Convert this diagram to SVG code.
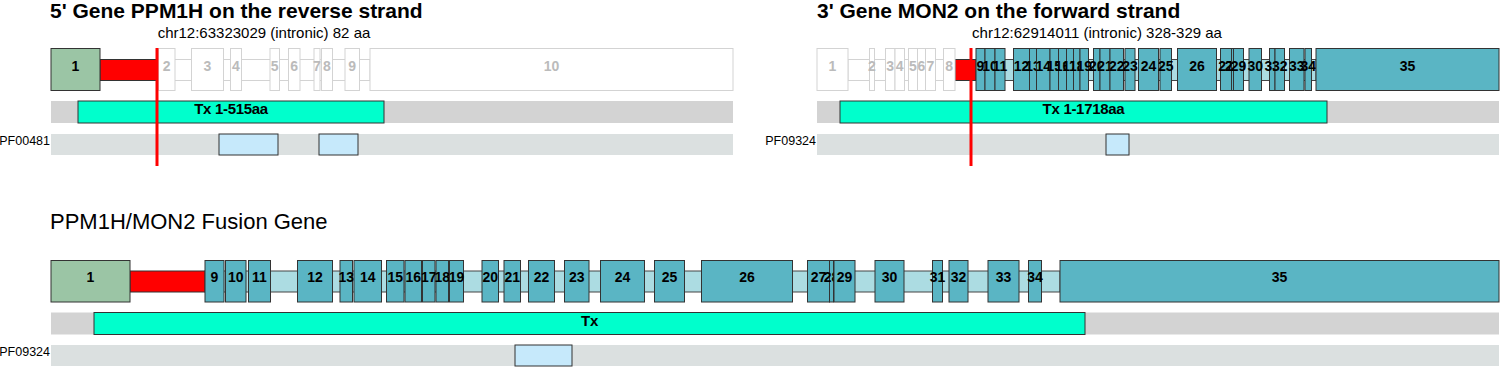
<svg xmlns="http://www.w3.org/2000/svg" width="1500" height="367" viewBox="0 0 1500 367">
<style>
.title{font:bold 21px "Liberation Sans",Arial,sans-serif;fill:#000}
.ftitle{font:22px "Liberation Sans",Arial,sans-serif;fill:#000}
.sub{font:15px "Liberation Sans",Arial,sans-serif;fill:#000;text-anchor:middle}
.ex{fill:#5ab5c4;stroke:#333;stroke-width:1}
.ex1{fill:#9bc5a5;stroke:#333;stroke-width:1}
.gex{fill:#fff;stroke:#d3d3d3;stroke-width:1}
.in{fill:#acdce2;stroke:#444;stroke-width:1}
.gin{fill:#fff;stroke:#d3d3d3;stroke-width:1}
.brk{fill:#ff0000;stroke:#333;stroke-width:1}
.lb{font:bold 14px "Liberation Sans",Arial,sans-serif;text-anchor:middle;fill:#000}
.glb{fill:#bbb}
.txbar{fill:#d3d3d3}
.tx{fill:#00ffcc;stroke:#333;stroke-width:1}
.txl{font:bold 15px "Liberation Sans",Arial,sans-serif;text-anchor:middle;fill:#000;letter-spacing:-0.3px}
.dombar{fill:#dbe0e0}
.dom{fill:#c6e9fb;stroke:#333;stroke-width:1}
.pf{font:12.5px "Liberation Sans",Arial,sans-serif;text-anchor:end;fill:#000}
.cut{stroke:#ff0000;stroke-width:3}
</style>

<g id="gene5">
<text class="title" x="50" y="18">5' Gene PPM1H on the reverse strand</text>
<text class="sub" x="264" y="38">chr12:63323029 (intronic) 82 aa</text>
<rect class="gin" x="159" y="59.5" width="211" height="21"/>
<rect class="brk" x="100" y="59.5" width="59" height="21"/>
<g id="g5e1"><rect class="ex1" x="51" y="48.5" width="49" height="42"/><text class="lb" x="75.5" y="71">1</text></g>
<g id="g5e2"><rect class="gex" x="158.5" y="48.5" width="16.5" height="42"/><text class="lb glb" x="166.7" y="71">2</text></g>
<g id="g5e3"><rect class="gex" x="191.5" y="48.5" width="32" height="42"/><text class="lb glb" x="207.5" y="71">3</text></g>
<g id="g5e4"><rect class="gex" x="230.5" y="48.5" width="11" height="42"/><text class="lb glb" x="236" y="71">4</text></g>
<g id="g5e5"><rect class="gex" x="270" y="48.5" width="9.5" height="42"/><text class="lb glb" x="274.7" y="71">5</text></g>
<g id="g5e6"><rect class="gex" x="288.5" y="48.5" width="11.5" height="42"/><text class="lb glb" x="294.2" y="71">6</text></g>
<g id="g5e7"><rect class="gex" x="314" y="48.5" width="6" height="42"/><text class="lb glb" x="317" y="71">7</text></g>
<g id="g5e8"><rect class="gex" x="321.5" y="48.5" width="11" height="42"/><text class="lb glb" x="327" y="71">8</text></g>
<g id="g5e9"><rect class="gex" x="345" y="48.5" width="14.5" height="42"/><text class="lb glb" x="352.2" y="71">9</text></g>
<g id="g5e10"><rect class="gex" x="370" y="48.5" width="363" height="42"/><text class="lb glb" x="551.5" y="71">10</text></g>
<rect class="txbar" x="51" y="101" width="682" height="22"/>
<rect class="tx" x="78" y="101" width="306" height="22"/>
<text class="txl" x="231" y="114">Tx 1-515aa</text>
<rect class="dombar" x="51" y="134" width="682" height="21"/>
<rect class="dom" x="219" y="134" width="59" height="21"/>
<rect class="dom" x="319" y="134" width="39" height="21"/>
<text class="pf" x="50" y="145">PF00481</text>
</g>

<g id="gene3">
<text class="title" x="817" y="18">3' Gene MON2 on the forward strand</text>
<text class="sub" x="1097" y="38">chr12:62914011 (intronic) 328-329 aa</text>
<rect class="gin" x="848" y="59.5" width="107" height="21"/>
<rect class="in" x="976" y="59.5" width="340" height="21"/>
<rect class="brk" x="955" y="59.5" width="21" height="21"/>
<g id="g3e1"><rect class="gex" x="817" y="48.5" width="31" height="42"/><text class="lb glb" x="832.5" y="71">1</text></g>
<g id="g3e2"><rect class="gex" x="869.5" y="48.5" width="5" height="42"/><text class="lb glb" x="872" y="71">2</text></g>
<g id="g3e3"><rect class="gex" x="885.5" y="48.5" width="9.5" height="42"/><text class="lb glb" x="890.2" y="71">3</text></g>
<g id="g3e4"><rect class="gex" x="895" y="48.5" width="9.5" height="42"/><text class="lb glb" x="899.7" y="71">4</text></g>
<g id="g3e5"><rect class="gex" x="908.5" y="48.5" width="9" height="42"/><text class="lb glb" x="913" y="71">5</text></g>
<g id="g3e6"><rect class="gex" x="917.5" y="48.5" width="8" height="42"/><text class="lb glb" x="921.5" y="71">6</text></g>
<g id="g3e7"><rect class="gex" x="925.5" y="48.5" width="10" height="42"/><text class="lb glb" x="930.5" y="71">7</text></g>
<g id="g3e8"><rect class="gex" x="943.5" y="48.5" width="11.5" height="42"/><text class="lb glb" x="949.2" y="71">8</text></g>
<g id="g3e9"><rect class="ex" x="976" y="48.5" width="9" height="42"/><text class="lb" x="980.5" y="71">9</text></g>
<g id="g3e10"><rect class="ex" x="985" y="48.5" width="10" height="42"/><text class="lb" x="990" y="71">10</text></g>
<g id="g3e11"><rect class="ex" x="995" y="48.5" width="10" height="42"/><text class="lb" x="1000" y="71">11</text></g>
<g id="g3e12"><rect class="ex" x="1013.5" y="48.5" width="16" height="42"/><text class="lb" x="1021.5" y="71">12</text></g>
<g id="g3e13"><rect class="ex" x="1029.5" y="48.5" width="7" height="42"/><text class="lb" x="1033" y="71">13</text></g>
<g id="g3e14"><rect class="ex" x="1036.5" y="48.5" width="13.5" height="42"/><text class="lb" x="1043.2" y="71">14</text></g>
<g id="g3e15"><rect class="ex" x="1050" y="48.5" width="8.5" height="42"/><text class="lb" x="1054.2" y="71">15</text></g>
<g id="g3e16"><rect class="ex" x="1058.5" y="48.5" width="8" height="42"/><text class="lb" x="1062.5" y="71">16</text></g>
<g id="g3e17"><rect class="ex" x="1066.5" y="48.5" width="7" height="42"/><text class="lb" x="1070" y="71">17</text></g>
<g id="g3e18"><rect class="ex" x="1073.5" y="48.5" width="6.5" height="42"/><text class="lb" x="1076.7" y="71">18</text></g>
<g id="g3e19"><rect class="ex" x="1080" y="48.5" width="8.5" height="42"/><text class="lb" x="1084.2" y="71">19</text></g>
<g id="g3e20"><rect class="ex" x="1093.5" y="48.5" width="6.5" height="42"/><text class="lb" x="1096.7" y="71">20</text></g>
<g id="g3e21"><rect class="ex" x="1100" y="48.5" width="10" height="42"/><text class="lb" x="1105" y="71">21</text></g>
<g id="g3e22"><rect class="ex" x="1110" y="48.5" width="13.5" height="42"/><text class="lb" x="1116.7" y="71">22</text></g>
<g id="g3e23"><rect class="ex" x="1125" y="48.5" width="10" height="42"/><text class="lb" x="1130" y="71">23</text></g>
<g id="g3e24"><rect class="ex" x="1138.5" y="48.5" width="20" height="42"/><text class="lb" x="1148.5" y="71">24</text></g>
<g id="g3e25"><rect class="ex" x="1160" y="48.5" width="11.5" height="42"/><text class="lb" x="1165.7" y="71">25</text></g>
<g id="g3e26"><rect class="ex" x="1177.5" y="48.5" width="39" height="42"/><text class="lb" x="1197" y="71">26</text></g>
<g id="g3e27"><rect class="ex" x="1220.5" y="48.5" width="11" height="42"/><text class="lb" x="1226" y="71">27</text></g>
<g id="g3e28"><rect class="ex" x="1231.5" y="48.5" width="2" height="42"/><text class="lb" x="1232.5" y="71">28</text></g>
<g id="g3e29"><rect class="ex" x="1233.5" y="48.5" width="10" height="42"/><text class="lb" x="1238.5" y="71">29</text></g>
<g id="g3e30"><rect class="ex" x="1249" y="48.5" width="12.5" height="42"/><text class="lb" x="1255.2" y="71">30</text></g>
<g id="g3e31"><rect class="ex" x="1269.5" y="48.5" width="5.5" height="42"/><text class="lb" x="1272.2" y="71">31</text></g>
<g id="g3e32"><rect class="ex" x="1275" y="48.5" width="9.5" height="42"/><text class="lb" x="1279.7" y="71">32</text></g>
<g id="g3e33"><rect class="ex" x="1289.5" y="48.5" width="14.5" height="42"/><text class="lb" x="1296.7" y="71">33</text></g>
<g id="g3e34"><rect class="ex" x="1305" y="48.5" width="6.5" height="42"/><text class="lb" x="1308.2" y="71">34</text></g>
<g id="g3e35"><rect class="ex" x="1316" y="48.5" width="183" height="42"/><text class="lb" x="1407.5" y="71">35</text></g>
<rect class="txbar" x="817" y="101" width="682" height="22"/>
<rect class="tx" x="840" y="101" width="487" height="22"/>
<text class="txl" x="1083.5" y="114">Tx 1-1718aa</text>
<rect class="dombar" x="817" y="134" width="682" height="21"/>
<rect class="dom" x="1106" y="134" width="23" height="21"/>
<text class="pf" x="816" y="145">PF09324</text>
</g>

<g id="fusion">
<text class="ftitle" x="50" y="229">PPM1H/MON2 Fusion Gene</text>
<rect class="in" x="205" y="271" width="855" height="21"/>
<rect class="brk" x="130" y="271" width="75" height="21"/>
<g id="fe1"><rect class="ex1" x="51" y="260.5" width="79" height="41.5"/><text class="lb" x="90.5" y="282">1</text></g>
<g id="fe9"><rect class="ex" x="205" y="260.5" width="19" height="41.5"/><text class="lb" x="214.5" y="282">9</text></g>
<g id="fe10"><rect class="ex" x="225.5" y="260.5" width="20.5" height="41.5"/><text class="lb" x="235.7" y="282">10</text></g>
<g id="fe11"><rect class="ex" x="248.5" y="260.5" width="22" height="41.5"/><text class="lb" x="259.5" y="282">11</text></g>
<g id="fe12"><rect class="ex" x="297.5" y="260.5" width="35" height="41.5"/><text class="lb" x="315" y="282">12</text></g>
<g id="fe13"><rect class="ex" x="340" y="260.5" width="12.5" height="41.5"/><text class="lb" x="346.2" y="282">13</text></g>
<g id="fe14"><rect class="ex" x="354" y="260.5" width="27.5" height="41.5"/><text class="lb" x="367.7" y="282">14</text></g>
<g id="fe15"><rect class="ex" x="386.5" y="260.5" width="17.5" height="41.5"/><text class="lb" x="395.2" y="282">15</text></g>
<g id="fe16"><rect class="ex" x="405" y="260.5" width="16.5" height="41.5"/><text class="lb" x="413.2" y="282">16</text></g>
<g id="fe17"><rect class="ex" x="422.5" y="260.5" width="12.5" height="41.5"/><text class="lb" x="428.7" y="282">17</text></g>
<g id="fe18"><rect class="ex" x="436" y="260.5" width="12.5" height="41.5"/><text class="lb" x="442.2" y="282">18</text></g>
<g id="fe19"><rect class="ex" x="449.5" y="260.5" width="14" height="41.5"/><text class="lb" x="456.5" y="282">19</text></g>
<g id="fe20"><rect class="ex" x="482" y="260.5" width="16.5" height="41.5"/><text class="lb" x="490.2" y="282">20</text></g>
<g id="fe21"><rect class="ex" x="504" y="260.5" width="16.5" height="41.5"/><text class="lb" x="512.2" y="282">21</text></g>
<g id="fe22"><rect class="ex" x="528.5" y="260.5" width="26" height="41.5"/><text class="lb" x="541.5" y="282">22</text></g>
<g id="fe23"><rect class="ex" x="564.5" y="260.5" width="24.5" height="41.5"/><text class="lb" x="576.7" y="282">23</text></g>
<g id="fe24"><rect class="ex" x="600.5" y="260.5" width="44" height="41.5"/><text class="lb" x="622.5" y="282">24</text></g>
<g id="fe25"><rect class="ex" x="654.5" y="260.5" width="30" height="41.5"/><text class="lb" x="669.5" y="282">25</text></g>
<g id="fe26"><rect class="ex" x="701.5" y="260.5" width="91" height="41.5"/><text class="lb" x="747" y="282">26</text></g>
<g id="fe27"><rect class="ex" x="807.5" y="260.5" width="22" height="41.5"/><text class="lb" x="818.5" y="282">27</text></g>
<g id="fe28"><rect class="ex" x="829.5" y="260.5" width="4" height="41.5"/><text class="lb" x="831.5" y="282">28</text></g>
<g id="fe29"><rect class="ex" x="834" y="260.5" width="21" height="41.5"/><text class="lb" x="844.5" y="282">29</text></g>
<g id="fe30"><rect class="ex" x="875" y="260.5" width="29" height="41.5"/><text class="lb" x="889.5" y="282">30</text></g>
<g id="fe31"><rect class="ex" x="932.5" y="260.5" width="10" height="41.5"/><text class="lb" x="937.5" y="282">31</text></g>
<g id="fe32"><rect class="ex" x="949" y="260.5" width="19" height="41.5"/><text class="lb" x="958.5" y="282">32</text></g>
<g id="fe33"><rect class="ex" x="988" y="260.5" width="31" height="41.5"/><text class="lb" x="1003.5" y="282">33</text></g>
<g id="fe34"><rect class="ex" x="1028.5" y="260.5" width="13" height="41.5"/><text class="lb" x="1035" y="282">34</text></g>
<g id="fe35"><rect class="ex" x="1060" y="260.5" width="439" height="41.5"/><text class="lb" x="1279.5" y="282">35</text></g>
<rect class="txbar" x="51" y="312.5" width="1448" height="22"/>
<rect class="tx" x="94" y="312.5" width="991" height="22"/>
<text class="txl" x="589.5" y="325.5">Tx</text>
<rect class="dombar" x="51" y="345" width="1448" height="21"/>
<rect class="dom" x="515" y="345" width="57" height="21"/>
<text class="pf" x="50" y="356">PF09324</text>
</g>

<g id="connectors">
<line class="cut" x1="157" y1="48" x2="157" y2="166"/>
<line class="cut" x1="971" y1="48" x2="971" y2="166"/>
</g>
</svg>
